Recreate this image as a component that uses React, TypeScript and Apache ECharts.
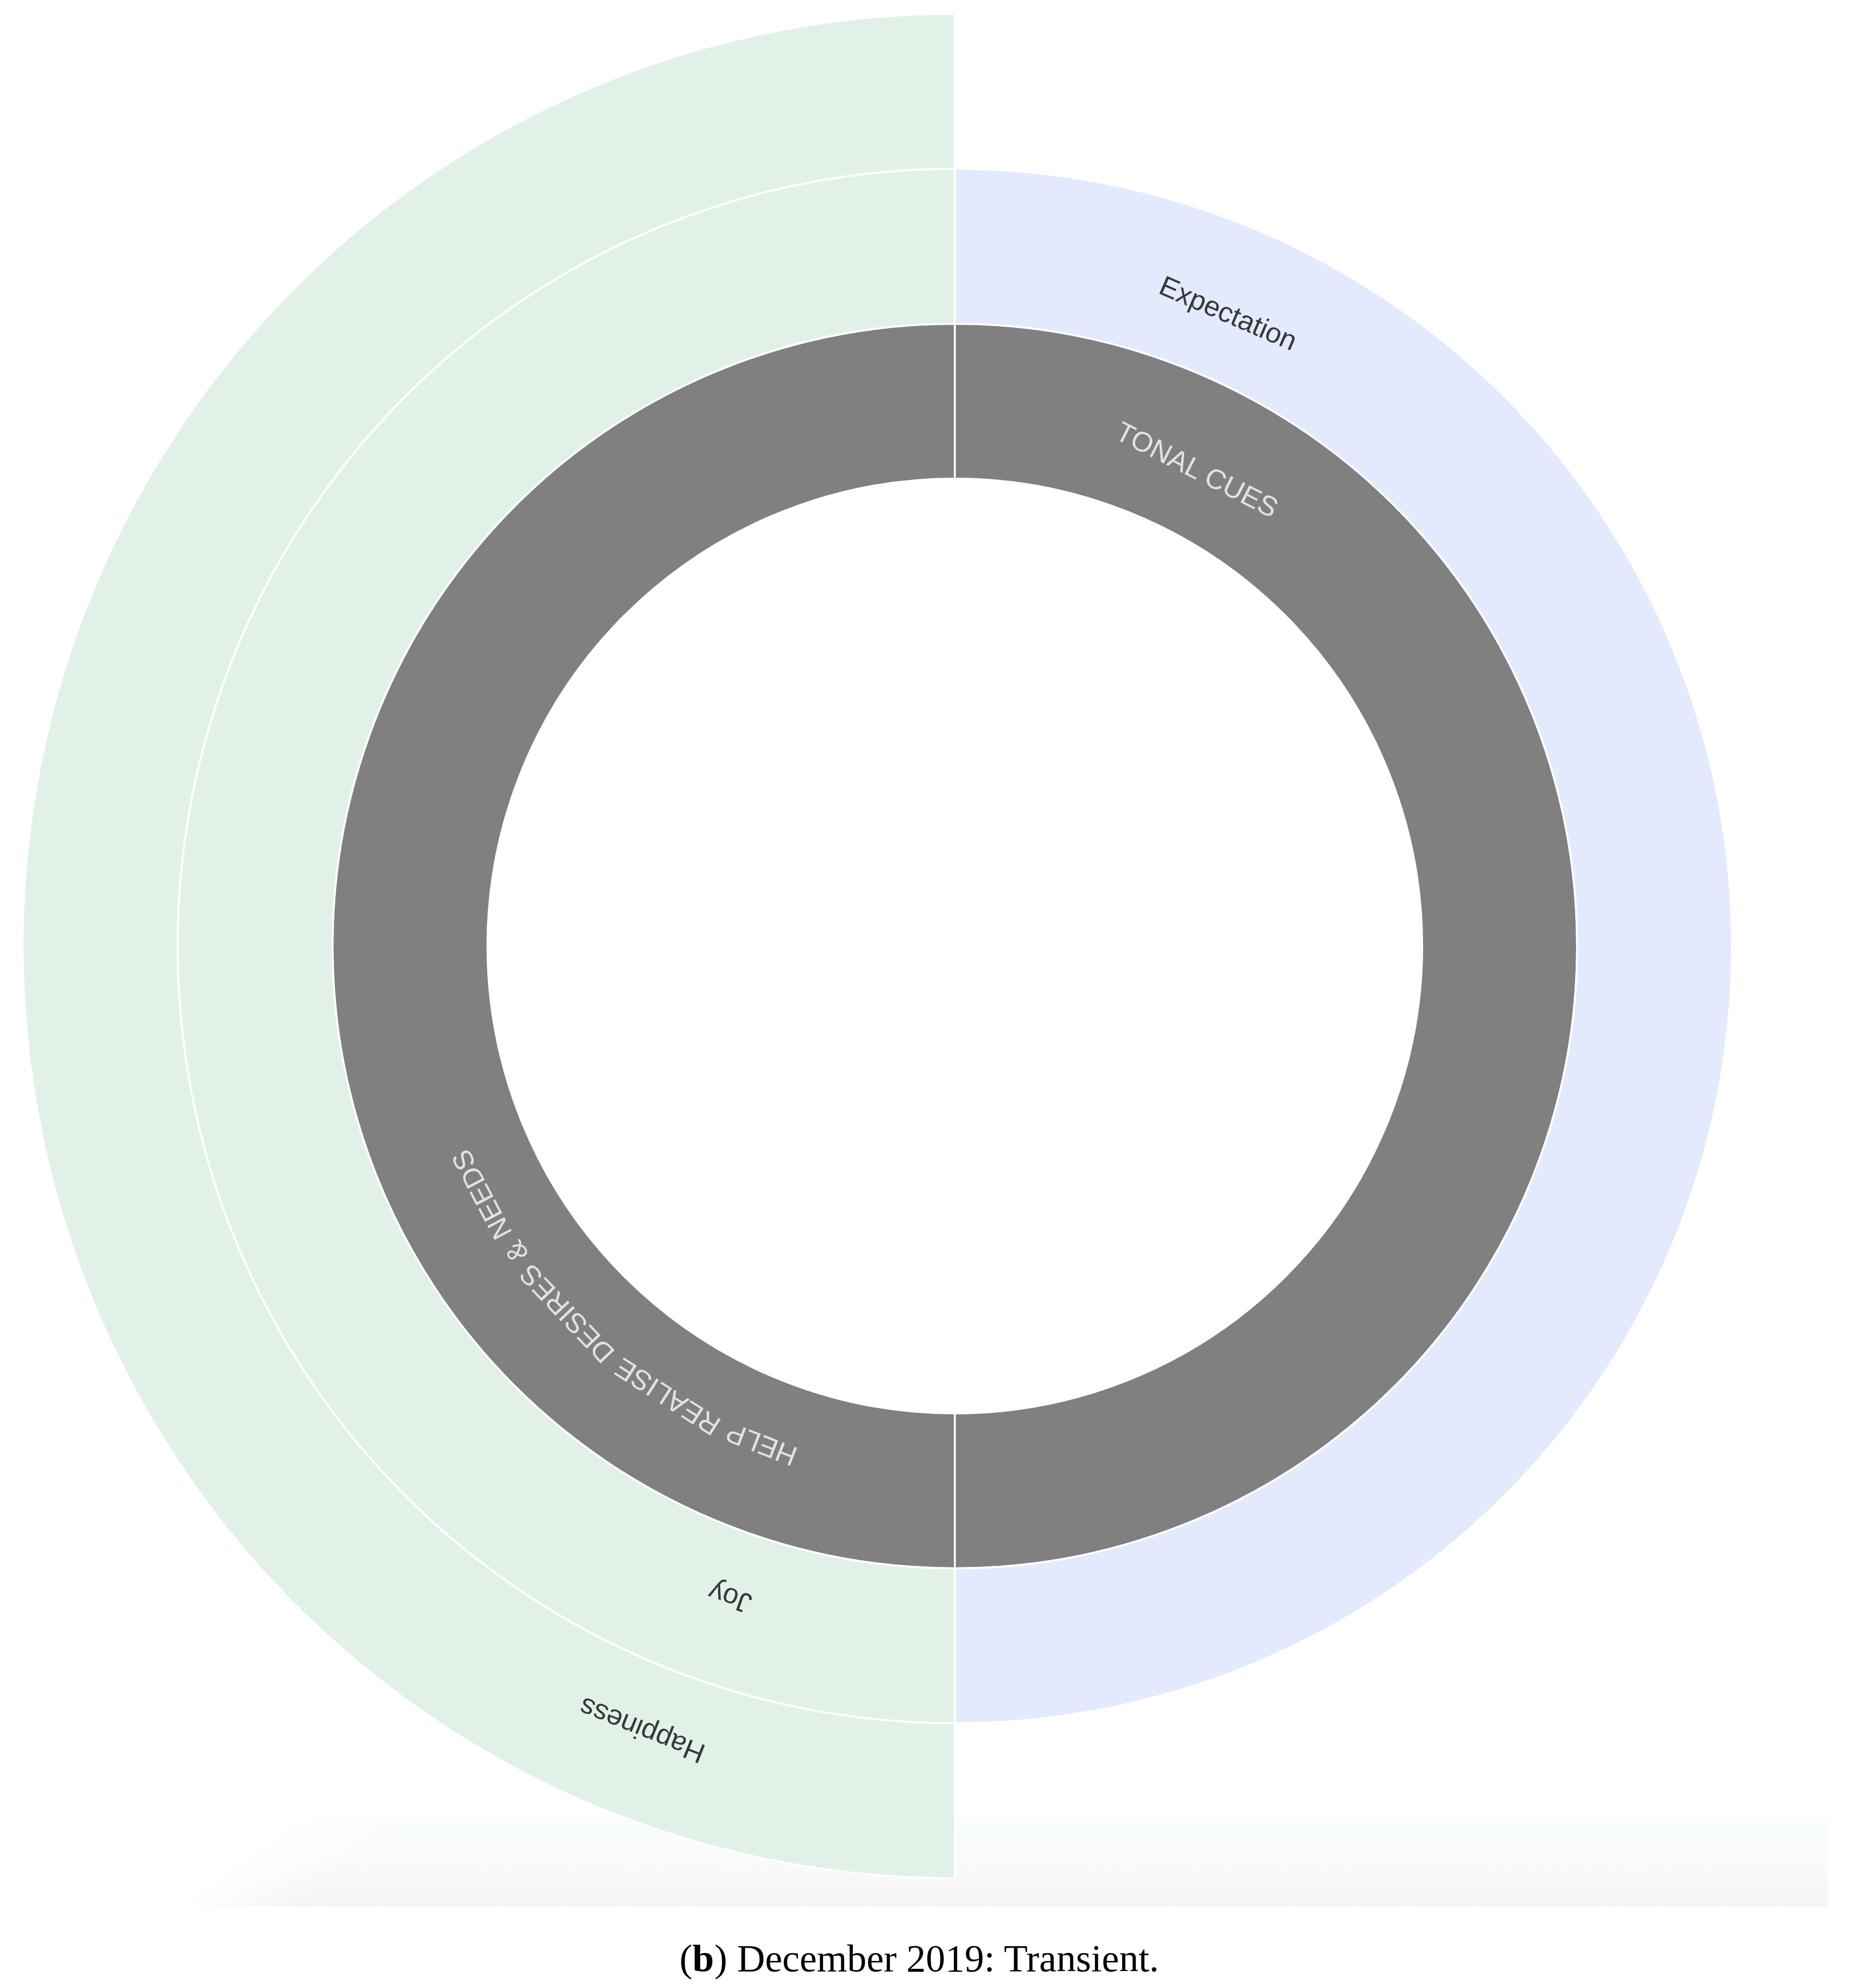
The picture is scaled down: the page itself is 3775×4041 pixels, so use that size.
import React, { useEffect, useRef } from 'react';
import * as echarts from 'echarts';

// ---------- data ----------
const level1Names = ['TONAL CUES', 'HELP REALISE DESIRES & NEEDS'];
const level1Values = [1, 1];
const level2Names = ['Expectation', 'Joy'];
const level2Values = [1, 1];
const level2Parents = [0, 1];
const level3Names = ['Happiness'];
const level3Values = [1];
const level3Parents = [1];
const captionTag = 'b';
const captionText = ' December 2019: Transient.';

// ---------- styles ----------
const level1Colors = ['#808080', '#808080'];
const level2Colors = ['#e3eafd', '#e2f1e7'];
const level3Colors = ['#e2f1e7'];
const level1LabelColor = '#e2e2e2';
const outerLabelColor = '#383838';

export default function App() {
  const ref = useRef<HTMLDivElement>(null);

  useEffect(() => {
    const el = ref.current;
    if (!el) return;
    const chart = echarts.init(el, null, { renderer: 'svg' });

    const CX = 1941;
    const CY = 1923;
    const R0 = 950;
    const R1 = 1895;
    const DEPTH = 3;
    const ringW = (R1 - R0) / DEPTH;
    const LABEL_FS = 57;
    const START_OFFSET = 17.2; // degrees from segment start
    const BASE_INSET = 117;

    // build tree
    const l3 = level3Names.map((n, i) => ({
      name: n,
      value: level3Values[i],
      itemStyle: { color: level3Colors[i] },
    }));
    const l2 = level2Names.map((n, i) => ({
      name: n,
      value: level2Values[i],
      itemStyle: { color: level2Colors[i] },
      children: l3.filter((_, k) => level3Parents[k] === i),
    }));
    const l1 = level1Names.map((n, i) => ({
      name: n,
      value: level1Values[i],
      itemStyle: { color: level1Colors[i] },
      children: l2.filter((_, k) => level2Parents[k] === i),
    }));

    // angular layout (bearing, clockwise from north) from values
    const segs: { name: string; start: number; ring: number; color: string }[] = [];
    const total1 = level1Values.reduce((a, b) => a + b, 0);
    let acc = 0;
    const l1Start: number[] = [];
    const l1Span: number[] = [];
    level1Names.forEach((n, i) => {
      const st = (acc / total1) * 360;
      const sp = (level1Values[i] / total1) * 360;
      l1Start.push(st);
      l1Span.push(sp);
      segs.push({ name: n, start: st, ring: 0, color: level1LabelColor });
      acc += level1Values[i];
    });
    const l2Start: number[] = [];
    const l2Span: number[] = [];
    const usedL1 = level1Names.map(() => 0);
    level2Names.forEach((n, i) => {
      const p = level2Parents[i];
      const st = l1Start[p] + (usedL1[p] / level1Values[p]) * l1Span[p];
      const sp = (level2Values[i] / level1Values[p]) * l1Span[p];
      usedL1[p] += level2Values[i];
      l2Start.push(st);
      l2Span.push(sp);
      segs.push({ name: n, start: st, ring: 1, color: outerLabelColor });
    });
    const usedL2 = level2Names.map(() => 0);
    level3Names.forEach((n, i) => {
      const p = level3Parents[i];
      const st = l2Start[p] + (usedL2[p] / level2Values[p]) * l2Span[p];
      usedL2[p] += level3Values[i];
      segs.push({ name: n, start: st, ring: 2, color: outerLabelColor });
    });

    const canvas = document.createElement('canvas');
    const ctx = canvas.getContext('2d')!;
    const labelFamily = '"Liberation Sans", Arial, sans-serif';
    ctx.font = `${LABEL_FS}px ${labelFamily}`;
    const spaceW = ctx.measureText(' ').width;

    const labelEls: any[] = [];
    segs.forEach((sg) => {
      const baseR = R0 + sg.ring * ringW + BASE_INSET;
      const rc = baseR + 0.35 * LABEL_FS;
      const totalW = ctx.measureText(sg.name).width;
      const spanDeg = ((totalW / baseR) * 180) / Math.PI;
      const startRad = ((sg.start + START_OFFSET) * Math.PI) / 180;
      const parts = spanDeg > 25 ? sg.name.split(' ') : [sg.name];
      let s = 0;
      parts.forEach((p) => {
        const w = ctx.measureText(p).width;
        const beta = startRad + (s + w / 2) / baseR;
        labelEls.push({
          type: 'text',
          x: CX + rc * Math.sin(beta),
          y: CY - rc * Math.cos(beta),
          rotation: -beta,
          z: 100,
          silent: true,
          style: {
            text: p,
            fill: sg.color,
            fontSize: LABEL_FS,
            fontFamily: labelFamily,
            align: 'center',
            verticalAlign: 'middle',
          },
        });
        s += w + spaceW;
      });
    });

    // background band near the bottom
    const band = [
      {
        type: 'rect',
        z: -10,
        silent: true,
        shape: { x: 366, y: 3680, width: 3715 - 366, height: 195 },
        style: {
          fill: {
            type: 'linear',
            x: 0, y: 0, x2: 0, y2: 1,
            colorStops: [
              { offset: 0, color: 'rgba(247,252,252,0)' },
              { offset: 0.2, color: '#f9fcfc' },
              { offset: 0.55, color: '#fafafa' },
              { offset: 1, color: '#f4f4f4' },
            ],
          },
        },
      },
      {
        type: 'rect',
        z: -9,
        silent: true,
        shape: { x: 300, y: 3670, width: 520, height: 215 },
        style: {
          fill: {
            type: 'linear',
            global: true,
            x: 482, y: 3777, x2: 482 + 0.642 * 160, y2: 3777 + 0.767 * 160,
            colorStops: [
              { offset: 0, color: 'rgba(255,255,255,1)' },
              { offset: 1, color: 'rgba(255,255,255,0)' },
            ],
          },
        },
      },
    ];

    const caption = {
      type: 'text',
      x: 1869,
      y: 3980,
      z: 100,
      silent: true,
      style: {
        text: `({bold|${captionTag}})${captionText}`,
        fill: '#000',
        fontSize: 79,
        fontFamily: '"Liberation Serif", "Times New Roman", serif',
        align: 'center',
        verticalAlign: 'middle',
        rich: {
          bold: {
            fontSize: 79,
            fontWeight: 'bold',
            fontFamily: '"Liberation Serif", "Times New Roman", serif',
            fill: '#000',
          },
        },
      },
    };

    chart.setOption({
      animation: false,
      backgroundColor: '#ffffff',
      graphic: [...band, ...labelEls, caption],
      series: [
        {
          type: 'sunburst',
          center: [CX, CY],
          radius: [R0, R1],
          startAngle: 90,
          clockwise: true,
          sort: null,
          nodeClick: false,
          emphasis: { disabled: true },
          label: { show: false },
          itemStyle: { borderColor: '#ffffff', borderWidth: 4 },
          data: l1,
        },
      ],
    });

    return () => chart.dispose();
  }, []);

  return (
    <div
      ref={ref}
      style={{ position: 'absolute', left: 0, top: 0, width: 3775, height: 4041 }}
    />
  );
}
